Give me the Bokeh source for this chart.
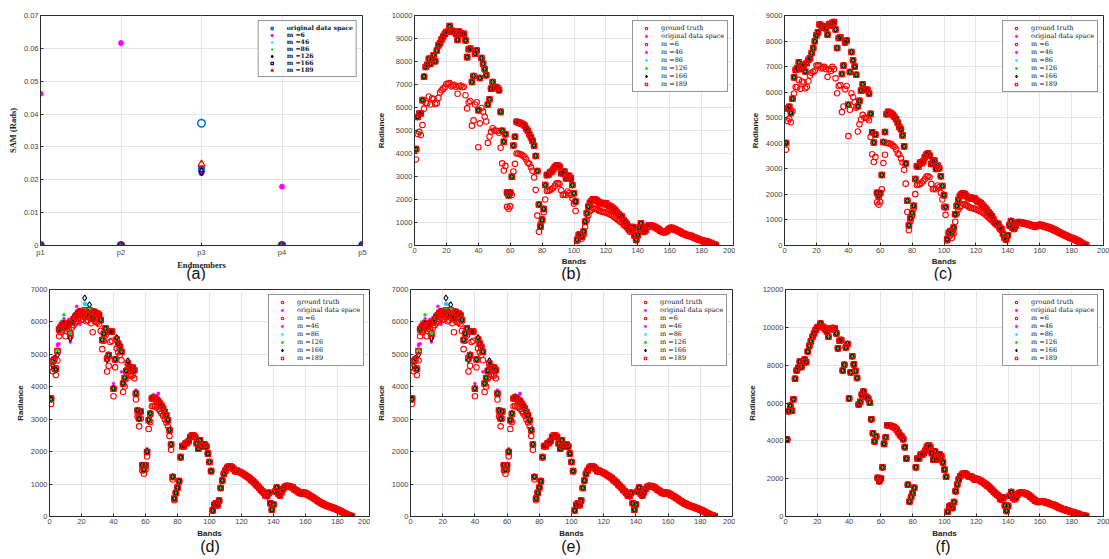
from bokeh.plotting import figure
from bokeh.layouts import row, column
from bokeh.models import Legend, LegendItem, FixedTicker, Range1d, Div, Spacer
from bokeh.embed import file_html
from bokeh.resources import INLINE

# ---------------------------------------------------------------- data
endmembers = ["p1", "p2", "p3", "p4", "p5"]
sam_orig = [0.0, 0.0, 0.0372, 0.0, 0.0]
sam_m6 = [0.0462, 0.0616, 0.0220, 0.0179, 0.0]
sam_m46 = [0.0, 0.0, 0.0235, 0.0, 0.0]
sam_m86 = [0.0, 0.0, 0.0238, 0.0, 0.0]
sam_m126 = [0.0, 0.0, 0.0225, 0.0, 0.0]
sam_m166 = [0.0, 0.0, 0.0232, 0.0, 0.0]
sam_m189 = [0.0, 0.0, 0.0248, 0.0, 0.0]

bands = list(range(1, 190))

b_truth = [
    4190, 5590, 5740, 5740, 6320, 7340, 7760, 7860, 8120, 7900,
    8120, 8270, 8010, 8480, 8700, 8800, 8960, 9090, 9200, 9280,
    9300, 9540, 9350, 9320, 9280, 9200, 8940, 9300, 9230, 9200,
    9200, 8920, 8190, 8530, 8560, 7110, 7370, 8340, 8480, 5880,
    7280, 8150, 7900, 7670, 7400, 6130, 6360, 6820, 7110, 6850,
    6890, 6850, 6750, 5810, 4990, 4510, 4840, 2300, 2180, 2300,
    2990, 4350, 4730, 5380, 5350, 5330, 5300, 5270, 5220, 5090,
    4990, 4840, 4700, 4550, 4340, 3890, 3240, 1780, 820, 1110,
    1590, 2630, 3060, 3080, 3180, 3220, 3310, 3420, 3480, 3480,
    3420, 3140, 3140, 3210, 2920, 2990, 3030, 2920, 2630, 2270,
    1910, 250, 460, 490, 390, 610, 1040, 1400, 1690, 1860,
    1940, 2010, 2010, 1980, 1910, 1840, 1860, 1810, 1810, 1840,
    1760, 1730, 1690, 1650, 1590, 1520, 1430, 1360, 1290, 1260,
    1110, 1030, 940, 820, 680, 710, 800, 430, 250, 460,
    780, 970, 750, 610, 680, 820, 880, 880, 850, 820,
    800, 750, 710, 650, 620, 590, 590, 620, 680, 740,
    770, 740, 710, 680, 650, 620, 580, 530, 510, 480,
    450, 430, 420, 390, 360, 330, 300, 270, 250, 230,
    200, 190, 170, 160, 130, 100, 60, 30, 15]

b_m6 = [
    3740, 4850, 4940, 4800, 5240, 5950, 6200, 6190, 6480, 6130,
    6400, 6370, 6150, 6190, 6420, 6650, 6750, 6820, 6880, 7020,
    7040, 7060, 6920, 6960, 6990, 6900, 6600, 6920, 6950, 6880,
    6900, 6530, 5960, 6230, 6280, 5210, 5440, 6130, 6230, 4270,
    5310, 5980, 5820, 5600, 5390, 4460, 4740, 4940, 5100, 5000,
    5000, 4980, 4900, 4250, 3570, 3260, 3460, 1680, 1600, 1700,
    2200, 3220, 3550, 4000, 4000, 3980, 3950, 3900, 3850, 3750,
    3600, 3550, 3400, 3250, 2960, 2420, 1300, 600, 930, 1150,
    1450, 2000, 2370, 2380, 2400, 2450, 2500, 2600, 2700, 2700,
    2680, 2400, 2200, 2230, 2200, 2350, 2280, 2200, 2050, 1820,
    1500, 200, 350, 380, 300, 470, 800, 1100, 1320, 1500,
    1560, 1620, 1600, 1580, 1540, 1500, 1490, 1460, 1450, 1440,
    1400, 1370, 1340, 1300, 1250, 1200, 1140, 1090, 1030, 1000,
    900, 850, 780, 700, 600, 620, 700, 400, 220, 420,
    720, 900, 720, 590, 660, 800, 860, 860, 830, 800,
    780, 730, 690, 630, 600, 570, 570, 600, 660, 720,
    750, 720, 690, 660, 630, 600, 560, 510, 490, 460,
    430, 410, 400, 370, 340, 310, 280, 250, 230, 210,
    180, 170, 150, 140, 110, 80, 40, 20, 5]

c_truth = [
    4010, 5360, 5430, 5190, 5740, 6580, 6870, 6940, 7170, 6910,
    7030, 7070, 6810, 7140, 7270, 7330, 7530, 7730, 7990, 8230,
    8340, 8650, 8610, 8520, 8580, 8490, 8250, 8670, 8610, 8710,
    8740, 8450, 7730, 8120, 8150, 6710, 7040, 7950, 8020, 5510,
    6790, 7570, 7250, 7000, 6680, 5450, 5660, 6060, 6310, 6110,
    6110, 6080, 5950, 5150, 4430, 4030, 4340, 2060, 1940, 2050,
    2760, 4050, 4440, 5140, 5230, 5190, 5160, 5100, 5030, 4940,
    4800, 4640, 4550, 4310, 3880, 3210, 1750, 790, 1070, 1270,
    1550, 2600, 3100, 3090, 3250, 3220, 3290, 3460, 3560, 3610,
    3510, 3190, 3300, 3320, 3000, 3130, 3020, 2710, 2330, 1970,
    1500, 240, 500, 570, 500, 700, 1220, 1550, 1790, 1940,
    2010, 2040, 2010, 1940, 1880, 1850, 1880, 1840, 1850, 1790,
    1720, 1700, 1660, 1590, 1520, 1460, 1380, 1290, 1220, 1140,
    1020, 890, 850, 850, 700, 640, 460, 300, 240, 400,
    800, 960, 700, 660, 780, 900, 920, 910, 890, 880,
    870, 850, 830, 810, 790, 770, 760, 770, 790, 810,
    800, 780, 760, 740, 720, 700, 680, 650, 620, 590,
    560, 520, 490, 460, 430, 400, 370, 340, 310, 290,
    270, 240, 210, 180, 150, 110, 70, 40, 20]

c_m6 = [
    3750, 4870, 4960, 4820, 5250, 5950, 6200, 6200, 6480, 6130,
    6420, 6380, 6150, 6200, 6430, 6650, 6750, 6800, 6830, 7040,
    7050, 7050, 6930, 6960, 6990, 6900, 6600, 6900, 6830, 6990,
    6900, 6540, 5960, 6240, 6280, 5220, 5440, 6110, 6240, 4280,
    5310, 5960, 5810, 5610, 5390, 4460, 4740, 4930, 5110, 5000,
    5010, 4980, 4900, 4250, 3570, 3270, 3460, 1690, 1600, 1700,
    2200, 3230, 3550, 4010, 4010, 3990, 3960, 3900, 3860, 3760,
    3600, 3560, 3410, 3250, 2960, 2420, 1310, 600, 940, 1150,
    1450, 2010, 2370, 2380, 2400, 2450, 2510, 2600, 2700, 2720,
    2680, 2410, 2200, 2230, 2200, 2350, 2280, 2060, 1800, 1510,
    1200, 200, 350, 380, 300, 470, 930, 1240, 1400, 1500,
    1560, 1620, 1610, 1580, 1540, 1490, 1480, 1460, 1440, 1420,
    1390, 1360, 1330, 1300, 1260, 1200, 1150, 1090, 1040, 990,
    920, 850, 790, 760, 640, 590, 420, 280, 220, 380,
    760, 920, 680, 640, 750, 870, 890, 880, 860, 850,
    840, 820, 800, 780, 760, 740, 730, 740, 760, 780,
    770, 750, 730, 710, 690, 670, 650, 620, 590, 560,
    530, 500, 470, 440, 410, 380, 350, 320, 290, 270,
    250, 220, 190, 160, 130, 90, 60, 30, 10]

d_truth = [
    3640, 4790, 4840, 4560, 5100, 5770, 5850, 5900, 5950, 5850,
    5900, 5950, 5640, 6000, 6080, 6160, 6210, 6280, 6310, 6260,
    6280, 6360, 6210, 6260, 6360, 6180, 6110, 6310, 6260, 6260,
    6210, 6060, 5440, 5640, 5800, 4870, 4970, 5700, 5700, 3940,
    4840, 5460, 5330, 5230, 5080, 4100, 4270, 4490, 4720, 4610,
    4560, 4590, 4510, 3790, 3270, 3020, 3240, 1580, 1440, 1580,
    1990, 2970, 3170, 3640, 3670, 3640, 3600, 3560, 3480, 3410,
    3330, 3220, 3120, 2970, 2660, 2220, 1220, 550, 730, 890,
    1090, 1830, 2170, 2170, 2250, 2270, 2330, 2450, 2500, 2500,
    2450, 2250, 2090, 2350, 2160, 2220, 2220, 2160, 1940, 1680,
    1400, 190, 360, 410, 350, 490, 880, 1110, 1320, 1420,
    1500, 1540, 1550, 1520, 1470, 1400, 1420, 1380, 1370, 1340,
    1320, 1280, 1250, 1220, 1180, 1130, 1090, 1050, 990, 940,
    890, 830, 780, 730, 650, 630, 730, 410, 210, 370,
    770, 890, 700, 650, 750, 850, 910, 940, 940, 930,
    910, 890, 840, 810, 780, 740, 720, 720, 730, 720,
    690, 660, 630, 600, 570, 540, 500, 470, 440, 410,
    390, 360, 340, 320, 300, 290, 270, 250, 230, 210,
    190, 160, 140, 110, 80, 60, 40, 20, 10]

# bands 1-78 of the reduced-dimension results; from band 79 on they agree
# with the ground truth
d_m6_head = [
    3470, 4480, 4560, 4360, 4810, 5560, 5680, 5740, 5820, 5560,
    5710, 5770, 5560, 5830, 5900, 5960, 6010, 6080, 6120, 6060,
    6080, 6150, 6020, 6050, 6130, 5960, 5680, 6040, 5990, 5980,
    5930, 5720, 5160, 5420, 5580, 4470, 4650, 5380, 5420, 3710,
    4600, 5190, 5060, 4980, 4820, 3840, 4010, 4250, 4480, 4390,
    4330, 4350, 4260, 3610, 3080, 2780, 3020, 1420, 1320, 1440,
    1850, 2700, 2910, 3400, 3410, 3390, 3360, 3320, 3250, 3180,
    3110, 3000, 2900, 2780, 2480, 2060, 1140, 500]
d_orig_head = [
    3560, 4800, 4880, 4520, 5310, 5330, 5830, 5980, 6010, 5790,
    5850, 6080, 5380, 5960, 6060, 6230, 6480, 6300, 5930, 6240,
    6300, 6550, 6250, 6420, 6300, 6120, 6180, 6280, 6230, 6300,
    6160, 6020, 5500, 5690, 5850, 4900, 5020, 5760, 5650, 4100,
    4800, 5500, 5380, 5200, 4460, 4160, 4200, 4560, 4700, 4650,
    4600, 4540, 4520, 3900, 3150, 3060, 3250, 1600, 1480, 1620,
    2090, 2900, 3200, 3600, 3700, 3700, 3720, 3800, 3500, 3420,
    3340, 3230, 3100, 2950, 2700, 2250, 1250, 560]
d_m46_head = [
    3600, 4750, 4850, 4590, 5270, 5800, 5900, 5890, 6100, 5900,
    5950, 5900, 5600, 6050, 6100, 6200, 6250, 6320, 6350, 6280,
    6320, 6400, 6250, 6280, 6400, 6200, 6150, 6350, 6280, 6300,
    6240, 6100, 5480, 5670, 5830, 4900, 5000, 5720, 5740, 4000,
    4880, 5490, 5360, 5260, 5100, 4120, 4290, 4510, 4740, 4630,
    4580, 4610, 4530, 3830, 3290, 3040, 3260, 1600, 1460, 1600,
    2010, 3000, 3190, 3680, 3700, 3660, 3620, 3780, 3500, 3430,
    3350, 3240, 3140, 2990, 2680, 2240, 1230, 560]
d_m86_head = [
    3620, 4780, 4860, 4580, 5130, 5820, 6000, 6030, 5980, 5880,
    5930, 5990, 5670, 6040, 6110, 6190, 6250, 6330, 6350, 6300,
    6320, 6560, 6550, 6300, 6400, 6210, 6150, 6350, 6300, 6300,
    6250, 6090, 5460, 5680, 5830, 4890, 5000, 5740, 5730, 3970,
    4870, 5400, 5200, 5250, 5100, 4120, 4290, 4510, 4740, 4630,
    4580, 4610, 4530, 3810, 3290, 3040, 3260, 1600, 1460, 1600,
    2010, 2990, 3190, 3660, 3760, 3670, 3620, 3580, 3500, 3430,
    3350, 3240, 3140, 2990, 2680, 2240, 1230, 560]
d_m126_head = [
    3600, 4770, 4820, 4610, 5140, 5720, 5880, 5940, 6220, 5860,
    5910, 5960, 5650, 6020, 6100, 6180, 6240, 6310, 6340, 6290,
    6300, 6380, 6240, 6280, 6370, 6200, 6130, 6330, 6280, 6280,
    6230, 6080, 5400, 5650, 5820, 4880, 5060, 5720, 5720, 3960,
    4860, 5480, 5350, 5250, 5100, 4110, 4290, 4500, 4730, 4620,
    4570, 4600, 4520, 3800, 3280, 3030, 3250, 1590, 1450, 1590,
    2000, 2980, 3180, 3650, 3680, 3650, 3610, 3570, 3490, 3420,
    3340, 3230, 3130, 2980, 2670, 2230, 1230, 560]
d_m166_head = [
    3620, 4650, 4880, 4530, 4990, 5780, 5860, 5920, 5960, 5870,
    5930, 5960, 5490, 6010, 6100, 6200, 6250, 6320, 6330, 6280,
    6300, 6740, 6220, 6300, 6530, 6200, 6130, 6320, 6280, 6260,
    6230, 6060, 5450, 5640, 5800, 4830, 4970, 5700, 5700, 3950,
    4850, 5520, 5330, 5250, 5080, 4110, 4280, 4500, 4800, 4620,
    4570, 4600, 4510, 3800, 3280, 3010, 3240, 1590, 1450, 1590,
    2000, 2980, 3180, 3650, 3680, 3650, 3610, 3570, 3490, 3420,
    3340, 3230, 3130, 2980, 2670, 2230, 1230, 560]

f_truth = [
    4070, 5570, 5850, 5590, 6200, 7280, 7720, 7860, 8190, 7900,
    8190, 8300, 8160, 8720, 9030, 9260, 9500, 9680, 9870, 9990,
    10030, 10200, 10040, 9990, 9900, 9780, 9500, 9940, 9900, 9960,
    9940, 9680, 8890, 9290, 9330, 7720, 8020, 8940, 9120, 6240,
    7620, 8470, 8040, 7690, 7320, 5920, 6060, 6450, 6600, 6360,
    6320, 6240, 6010, 5140, 4400, 3970, 4230, 2040, 1870, 2010,
    2600, 3840, 4190, 4820, 4820, 4800, 4770, 4730, 4680, 4580,
    4450, 4310, 4230, 4090, 3670, 3060, 1680, 790, 1030, 1240,
    1520, 2600, 3070, 3070, 3280, 3270, 3350, 3490, 3700, 3760,
    3700, 3350, 3000, 3440, 3000, 3090, 3270, 3180, 2860, 2480,
    2100, 260, 520, 590, 450, 770, 1340, 1690, 1960, 2130,
    2220, 2270, 2270, 2220, 2130, 2100, 2100, 2030, 1960, 1990,
    1960, 1920, 1870, 1820, 1760, 1700, 1630, 1560, 1480, 1400,
    1310, 1230, 1150, 1100, 930, 900, 1000, 580, 300, 560,
    1100, 1290, 1000, 920, 1000, 1170, 1240, 1260, 1260, 1240,
    1220, 1170, 1120, 1050, 980, 910, 840, 800, 770, 790,
    800, 800, 770, 730, 720, 680, 650, 630, 590, 560,
    510, 470, 440, 400, 380, 350, 310, 300, 260, 240,
    210, 190, 160, 140, 100, 70, 50, 35, 20]

legend_labels = ["ground truth", "original data space", "m =6", "m =46",
                 "m =86", "m =126", "m =166", "m =189"]

# ---------------------------------------------------------------- styling
AX = "#2b2b2b"
SANS = "Liberation Sans"
SERIF = "Liberation Serif"
LEGEND_FONT = "DejaVu Serif"

RED, MAG, CYAN, GREEN, BLUE = "#ff0000", "#ff00ff", "#00e5ff", "#00e000", "#0000ff"

TOP_H = 275      # upper panels (frame 15..245)
TOP_CAP_H = 5    # captions (a)-(c)
BOT_H = 262      # lower panels (frame 289..516)
BOT_CAP_H = 17   # captions (d)-(f)


def base_figure(w, h, left, right, top, bottom, x_range, y_range, xticks, yticks, label_gap):
    p = figure(width=w, height=h, x_range=x_range, y_range=y_range,
               output_backend="svg", toolbar_location=None,
               min_border_left=left, min_border_right=right,
               min_border_top=top, min_border_bottom=bottom)
    p.background_fill_color = "white"
    p.border_fill_color = "white"
    p.outline_line_color = AX
    p.outline_line_width = 1
    p.xaxis.ticker = FixedTicker(ticks=xticks)
    p.yaxis.ticker = FixedTicker(ticks=yticks)
    for ax in (p.xaxis[0], p.yaxis[0]):
        ax.major_tick_in = 3
        ax.major_tick_out = 0
        ax.major_tick_line_color = AX
        ax.minor_tick_line_color = None
        ax.axis_line_color = AX
        ax.major_label_text_font = SANS
        ax.major_label_text_font_size = "7.5px"
        ax.major_label_text_color = "#444444"
        ax.major_label_standoff = 2
        ax.axis_label_standoff = 3
    p.xaxis.axis_label_standoff = label_gap
    p.grid.grid_line_color = "#e4e4e4"
    p.grid.grid_line_width = 1
    return p


def style_legend(p, items, bold):
    leg = Legend(items=items, location="top_right")
    leg.border_line_color = AX
    leg.border_line_width = 1
    leg.background_fill_color = "white"
    leg.background_fill_alpha = 1
    leg.label_text_font = LEGEND_FONT
    leg.label_text_font_size = "6.2px" if bold else "6.5px"
    leg.label_text_font_style = "bold" if bold else "normal"
    leg.label_text_color = "#111111"
    leg.label_height = 6
    leg.glyph_height = 6
    leg.glyph_width = 20
    leg.label_standoff = 5
    leg.spacing = 0
    leg.padding = 3
    leg.margin = 5
    p.add_layout(leg)


def spectra_panel(w, h, left, right, top, bottom, ymax, ystep, series, label_gap):
    p = base_figure(w, h, left, right, top, bottom, Range1d(0, 200), Range1d(0, ymax),
                    list(range(0, 201, 20)), list(range(0, ymax + 1, ystep)), label_gap)
    p.xaxis.axis_label = "Bands"
    p.yaxis.axis_label = "Radiance"
    for ax in (p.xaxis[0], p.yaxis[0]):
        ax.axis_label_text_font = SANS
        ax.axis_label_text_font_size = "8px"
        ax.axis_label_text_font_style = "bold"
        ax.axis_label_text_color = "#222222"
    gt, orig, m6, m46, m86, m126, m166, m189 = series
    rs = [
        p.scatter(bands, gt, marker="circle", size=5.5, fill_color=None, line_color=RED, line_width=1.1),
        p.scatter(bands, orig, marker="circle", size=3, fill_color=MAG, line_color=MAG, line_width=0.5),
        p.scatter(bands, m6, marker="circle", size=5.5, fill_color=None, line_color=RED, line_width=1.1),
        p.scatter(bands, m46, marker="circle", size=3, fill_color=MAG, line_color=MAG, line_width=0.5),
        p.scatter(bands, m86, marker="asterisk", size=4, line_color=CYAN, line_width=1),
        p.scatter(bands, m126, marker="circle", size=3, fill_color=GREEN, line_color=GREEN, line_width=0.5),
        p.scatter(bands, m166, marker="diamond", size=6, fill_color=None, line_color="black", line_width=1.1),
        p.scatter(bands, m189, marker="square", size=5.5, fill_color=None, line_color=RED, line_width=1.1),
    ]
    style_legend(p, [LegendItem(label=t, renderers=[r]) for t, r in zip(legend_labels, rs)], False)
    return p


def caption_row(entries, height, shift):
    """A strip of panel captions, each centred on a given page x position."""
    kids, x = [], 0
    for cx, text in entries:
        left = int(round(cx - 20 - x))
        kids.append(Spacer(width=left, height=height, margin=0))
        kids.append(Div(text=f'<span style="position:relative;top:{shift}px">{text}</span>',
                        width=40, height=height, margin=0,
                        styles={"text-align": "center", "font-size": "16px",
                                "line-height": f"{height}px", "font-family": SANS,
                                "color": "#111111", "overflow": "visible"}))
        x += left + 40
    kids.append(Spacer(width=1109 - x, height=height, margin=0))
    return row(kids, spacing=0)


# ---------------------------------------------------------------- (a) SAM per endmember
xs = [i + 1 for i in range(len(endmembers))]
pa = base_figure(370, TOP_H, 40, 8, 15, TOP_H - 245, Range1d(1, 5), Range1d(0, 0.07),
                 xs, [0, 0.01, 0.02, 0.03, 0.04, 0.05, 0.06, 0.07], 0)
pa.xaxis.major_label_overrides = {x: name for x, name in zip(xs, endmembers)}
pa.yaxis.major_label_overrides = {0: "0", 0.01: "0.01", 0.02: "0.02", 0.03: "0.03",
                                  0.04: "0.04", 0.05: "0.05", 0.06: "0.06", 0.07: "0.07"}
pa.xaxis.axis_label = "Endmembers"
pa.yaxis.axis_label = "SAM (Rads)"
for ax in (pa.xaxis[0], pa.yaxis[0]):
    ax.axis_label_text_font = SERIF
    ax.axis_label_text_font_size = "8.5px"
    ax.axis_label_text_font_style = "bold"
    ax.axis_label_text_color = "#222222"
ra = [
    pa.scatter(xs, sam_orig, marker="circle", size=7.5, fill_color=None, line_color="#0072bd", line_width=1.5),
    pa.scatter(xs, sam_m6, marker="circle", size=5, fill_color=MAG, line_color=MAG),
    pa.scatter(xs, sam_m46, marker="cross", size=7, line_color=CYAN, line_width=1.2),
    pa.scatter(xs, sam_m86, marker="x", size=5, line_color=GREEN, line_width=1.2),
    pa.scatter(xs, sam_m126, marker="diamond", size=8, fill_color=None, line_color="black", line_width=1.3),
    pa.scatter(xs, sam_m166, marker="square", size=5, fill_color=None, line_color=BLUE, line_width=1.3),
    pa.scatter(xs, sam_m189, marker="triangle", size=7, fill_color=None, line_color=RED, line_width=1.3),
]
style_legend(pa, [LegendItem(label=t, renderers=[r]) for t, r in zip(legend_labels[1:], ra)], True)

# ---------------------------------------------------------------- (b)-(f) spectra
pb = spectra_panel(365, TOP_H, 44, 2, 15, TOP_H - 245, 10000, 1000,
                   [b_truth, b_truth, b_m6, b_truth, b_truth, b_truth, b_truth, b_truth], 1)
pc = spectra_panel(374, TOP_H, 49, 6, 15, TOP_H - 245, 9000, 1000,
                   [c_truth, c_truth, c_m6, c_truth, c_truth, c_truth, c_truth, c_truth], 1)

tail = d_truth[78:]
d_series = [d_truth, d_orig_head + tail, d_m6_head + tail, d_m46_head + tail,
            d_m86_head + tail, d_m126_head + tail, d_m166_head + tail, d_truth]
pd_ = spectra_panel(370, BOT_H, 49, 1, 9, BOT_H - 236, 7000, 1000, d_series, 2)
pe = spectra_panel(365, BOT_H, 40, 3, 9, BOT_H - 236, 7000, 1000, d_series, 2)
pf = spectra_panel(374, BOT_H, 50, 6, 9, BOT_H - 236, 12000, 2000, [f_truth] * 8, 2)

layout = column(
    row(pa, pb, pc, spacing=0),
    caption_row([(196, "(a)"), (571, "(b)"), (943, "(c)")], TOP_CAP_H, -4),
    row(pd_, pe, pf, spacing=0),
    caption_row([(210, "(d)"), (571, "(e)"), (943, "(f)")], BOT_CAP_H, -4),
    spacing=0)
open("out.html", "w").write(file_html(layout, INLINE))
